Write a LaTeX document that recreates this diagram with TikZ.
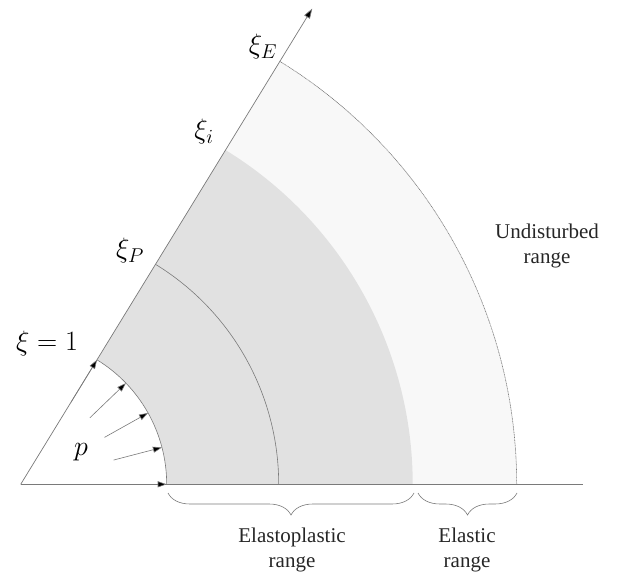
\RequirePackage{fix-cm}
\documentclass[tikz,border=0pt]{standalone}
\usepackage{fontspec}
\setmainfont{Liberation Serif}
\usetikzlibrary{calc,decorations.pathreplacing,arrows.meta}
\DeclareMathSizes{28}{28}{20}{15}
\definecolor{zonegray}{HTML}{E1E1E1}
\definecolor{zonelight}{HTML}{F8F8F8}
\definecolor{linegray}{HTML}{7A7A7A}
\begin{document}
\begin{tikzpicture}[x=1pt,y=1pt,
  axisline/.style={linegray,line width=0.7pt},
  arcline/.style={linegray,line width=0.6pt},
  outerarc/.style={linegray,line width=0.6pt,dash pattern=on 1pt off 0.6pt},
  parrow/.style={draw=linegray,line width=0.6pt,-{Triangle[length=9pt,width=6pt,fill=black]}},
  bracestyle/.style={linegray,line width=0.6pt,decorate,decoration={brace,mirror,amplitude=22pt}},
  mathlab/.style={font=\fontsize{28}{32}\selectfont,inner sep=0pt},
  txtlab/.style={font=\fontsize{21}{25}\selectfont,align=center,inner sep=0pt,text=black!85}]
\useasboundingbox (0,0) rectangle (621,573);
\def\ang{58.5}
\coordinate (O) at (20.7,88.7);
% zones
\fill[zonelight] (O) -- ++(0:496) arc[start angle=0,end angle=\ang,radius=496] -- cycle;
\fill[zonegray] (O) -- ++(0:392) arc[start angle=0,end angle=\ang,radius=392] -- cycle;
\fill[white] (O) -- ++(0:146) arc[start angle=0,end angle=\ang,radius=146] -- cycle;
% arcs
\draw[arcline] ($(O)+(0:146)$) arc[start angle=0,end angle=\ang,radius=146];
\draw[arcline] ($(O)+(0:258)$) arc[start angle=0,end angle=\ang,radius=258];
\draw[outerarc] ($(O)+(0:496)$) arc[start angle=0,end angle=\ang,radius=496];
% axes
\coordinate (xend) at (583,88.7);
\coordinate (yend) at ($(O)+(\ang:558)$);
\draw[axisline] (O) -- (xend);
\draw[axisline,-{Triangle[length=10pt,width=6.5pt,fill=black]}] (O) -- (yend);
% pressure arrows
\foreach \a [count=\i] in {0,14.625,29.25,43.875,58.5}{
  \coordinate (pt\i) at ($(O)+(\a:96)$);
  \coordinate (ph\i) at ($(O)+(\a:146)$);
  \draw[parrow] (pt\i) -- (ph\i);
}
% labels
\node[mathlab] (lxi1) at (47,229) {$\xi=1$};
\node[mathlab] (lp) at (81,121) {$p$};
\node[mathlab] (lxiP) at (130,322) {$\xi_P$};
\node[mathlab] (lxii) at (204,441) {$\xi_i$};
\node[mathlab] (lxiE) at (263,526) {$\xi_E$};
\node[txtlab] (lund) at (547,327) {Undisturbed\\range};
% braces
\coordinate (b1s) at (168,80);
\coordinate (b1e) at (414,80);
\coordinate (b2s) at (418,80);
\coordinate (b2e) at (517,80);
\draw[bracestyle] (b1s) -- (b1e);
\draw[bracestyle] (b2s) -- (b2e);
\node[txtlab] (lep) at (292,23) {Elastoplastic\\range};
\node[txtlab] (lel) at (467,23) {Elastic\\range};
\end{tikzpicture}
\end{document}
